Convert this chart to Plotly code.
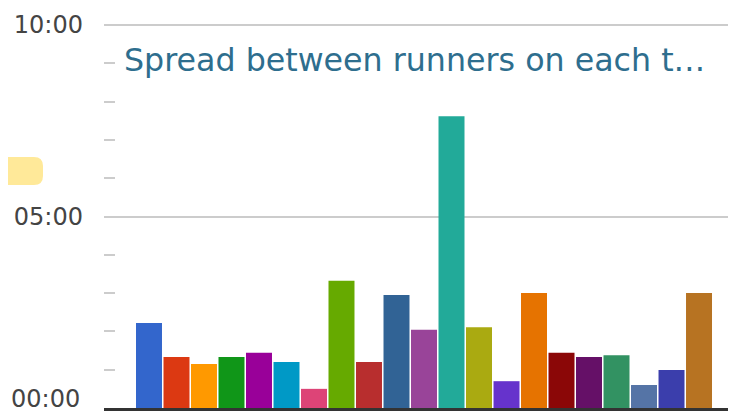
import plotly.graph_objects as go

# Data
stages = [f"Stage {i}" for i in range(1, 22)]
spread_minutes = [2.22, 1.33, 1.15, 1.33, 1.44, 1.20, 0.50, 3.32, 1.20, 2.95, 2.04,
                  7.62, 2.11, 0.70, 3.00, 1.44, 1.33, 1.38, 0.60, 0.99, 3.00]
bar_colors = ["#3366cc", "#dc3912", "#ff9900", "#109618", "#990099", "#0099c6",
              "#dd4477", "#66aa00", "#b82e2e", "#316395", "#994499", "#22aa99",
              "#aaaa11", "#6633cc", "#e67300", "#8b0707", "#651067", "#329262",
              "#5574a6", "#3b3eac", "#b77322"]
y_tick_vals = [0, 5, 10]
y_tick_text = ["", "05:00", "10:00"]
y_minor_vals = [1, 2, 3, 4, 6, 7, 8, 9]
zero_label = "00:00"
title_text = "Spread between runners on each t…"

# page body has an 8px margin; work in page pixels and shift
OFF = 8
W, H = 736 - OFF, 419 - OFF
PX_PER_MIN = 38.3
ML = 104 - OFF
MR = 0
MB = 419 - 408
MT = 15
PW, PH = W - ML - MR, H - MT - MB
Y_TOP = PH / PX_PER_MIN

fig = go.Figure(go.Bar(
    x=stages, y=spread_minutes,
    marker=dict(color=bar_colors, line=dict(width=0)),
    width=0.945,
    hoverinfo="y",
))

def px_x(px):
    return (px - OFF - ML) / PW

def px_y(py):
    return (H - MB - (py - OFF)) / PH

# yellow rounded tab at the left edge
x0, x1 = px_x(0), px_x(43)
y0, y1 = px_y(157), px_y(185)
rx, ry = 9 / PW, 9 / PH
path = (f"M {x0},{y0} L {x1-rx},{y0} Q {x1},{y0} {x1},{y0-ry} "
        f"L {x1},{y1+ry} Q {x1},{y1} {x1-rx},{y1} L {x0},{y1} Z")

fig.update_layout(
    width=W, height=H,
    margin=dict(l=ML, r=MR, t=MT, b=MB, pad=0),
    paper_bgcolor="white", plot_bgcolor="white",
    font=dict(family="DejaVu Sans, Verdana, sans-serif"),
    showlegend=False,
    xaxis=dict(
        type="category",
        range=[-1.636, 21.345],
        showticklabels=False, ticks="", showgrid=False,
        showline=True, linecolor="#333333", linewidth=3,
        zeroline=False, fixedrange=True, layer="above traces",
    ),
    yaxis=dict(
        range=[0, Y_TOP],
        tickvals=y_tick_vals, ticktext=y_tick_text,
        tickfont=dict(size=24, color="#444444"),
        ticks="", ticklabelstandoff=20,
        showgrid=True, gridcolor="#cccccc", gridwidth=2,
        zeroline=False, showline=False,
        minor=dict(tickmode="array", tickvals=y_minor_vals,
                   ticks="inside", ticklen=11, tickwidth=2,
                   tickcolor="#cccccc", showgrid=False),
        fixedrange=True,
    ),
    shapes=[dict(type="path", path=path, xref="paper", yref="paper",
                 fillcolor="#ffe999", line=dict(width=0), layer="above")],
    annotations=[
        dict(text=title_text, xref="paper", yref="paper",
             x=px_x(122), y=px_y(60), xanchor="left", yanchor="middle",
             showarrow=False,
             font=dict(size=31.7, color="#2e6e8e",
                       family="DejaVu Sans, Verdana, sans-serif")),
        dict(text=zero_label, xref="paper", yref="paper",
             x=px_x(82), y=px_y(399), xanchor="right", yanchor="middle",
             showarrow=False,
             font=dict(size=24, color="#444444",
                       family="DejaVu Sans, Verdana, sans-serif")),
    ],
)

fig.write_html("out.html")
